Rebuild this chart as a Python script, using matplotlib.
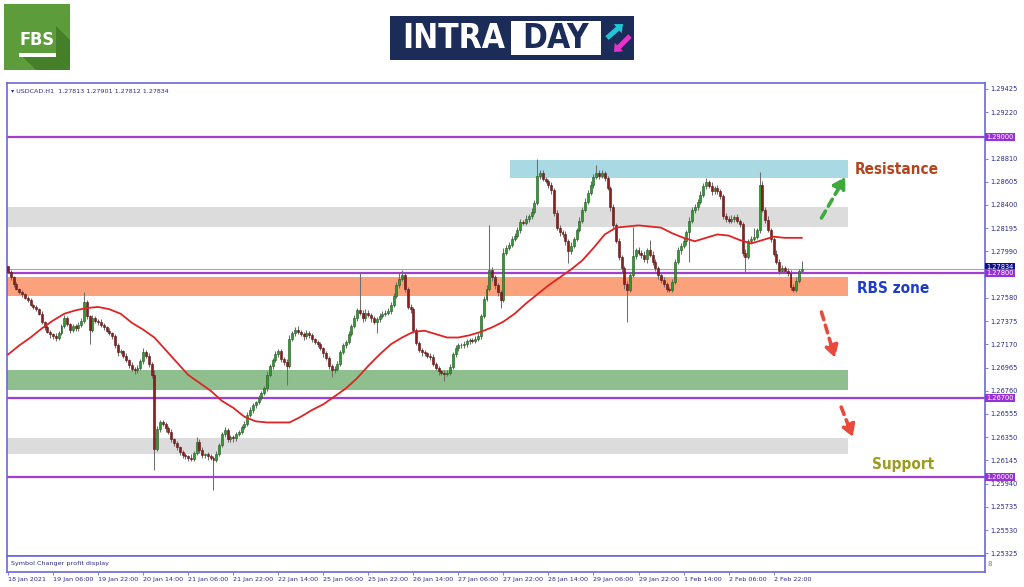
import matplotlib
matplotlib.use("Agg")
import matplotlib.pyplot as plt
from matplotlib import font_manager
from matplotlib.font_manager import FontProperties
from matplotlib.patches import Rectangle, Polygon, FancyArrow
import numpy as np

# USDCAD H1 closes, bar by bar
closes = [
    1.2781, 1.2776, 1.2770, 1.2766, 1.2763, 1.2761, 1.2758, 1.2756, 1.2752, 1.2750,
    1.2748, 1.2744, 1.2737, 1.2732, 1.2728, 1.2726, 1.2724, 1.2723, 1.2727, 1.2733,
    1.2740, 1.2735, 1.2730, 1.2733, 1.2731, 1.2734, 1.2738, 1.2754, 1.2742, 1.2730,
    1.2740, 1.2738, 1.2737, 1.2734, 1.2732, 1.2729, 1.2727, 1.2724, 1.2716, 1.2710,
    1.2711, 1.2707, 1.2703, 1.2699, 1.2695, 1.2694, 1.2696, 1.2702, 1.2710, 1.2707,
    1.2700, 1.2690, 1.2625, 1.2642, 1.2648, 1.2647, 1.2643, 1.2640, 1.2633, 1.2630,
    1.2626, 1.2622, 1.2619, 1.2618, 1.2617, 1.2616, 1.2621, 1.2631, 1.2624, 1.2619,
    1.2620, 1.2618, 1.2617, 1.2615, 1.2620, 1.2628, 1.2638, 1.2641, 1.2633, 1.2635,
    1.2634, 1.2638, 1.2640, 1.2644, 1.2647, 1.2655, 1.2659, 1.2663, 1.2666, 1.2670,
    1.2674, 1.2678, 1.2690, 1.2698, 1.2703, 1.2708, 1.2711, 1.2704, 1.2701, 1.2698,
    1.2722, 1.2727, 1.2730, 1.2728, 1.2726, 1.2724, 1.2727, 1.2725, 1.2722, 1.2719,
    1.2717, 1.2714, 1.2709, 1.2705, 1.2698, 1.2694, 1.2695, 1.2700, 1.2710, 1.2716,
    1.2719, 1.2726, 1.2733, 1.2740, 1.2747, 1.2745, 1.2740, 1.2745, 1.2743, 1.2740,
    1.2737, 1.2739, 1.2742, 1.2744, 1.2745, 1.2746, 1.2752, 1.2760, 1.2769, 1.2775,
    1.2778, 1.2766, 1.2750, 1.2748, 1.2730, 1.2718, 1.2712, 1.2710, 1.2709, 1.2707,
    1.2706, 1.2700, 1.2696, 1.2693, 1.2692, 1.2691, 1.2692, 1.2697, 1.2708, 1.2714,
    1.2716, 1.2716, 1.2717, 1.2720, 1.2721, 1.2720, 1.2722, 1.2724, 1.2742, 1.2757,
    1.2766, 1.2783, 1.2776, 1.2769, 1.2763, 1.2756, 1.2798, 1.2802, 1.2805, 1.2810,
    1.2813, 1.2818, 1.2825, 1.2824, 1.2828, 1.2830, 1.2834, 1.2842, 1.2866, 1.2868,
    1.2863, 1.2861, 1.2858, 1.2853, 1.2833, 1.2820, 1.2816, 1.2814, 1.2808, 1.2799,
    1.2804, 1.2810, 1.2818, 1.2826, 1.2836, 1.2843, 1.2851, 1.2858, 1.2865, 1.2868,
    1.2866, 1.2868, 1.2864, 1.2855, 1.2838, 1.2822, 1.2808, 1.2794, 1.2784, 1.2770,
    1.2765, 1.2778, 1.2795, 1.2800, 1.2798, 1.2796, 1.2792, 1.2800, 1.2796, 1.2790,
    1.2784, 1.2778, 1.2774, 1.2770, 1.2766, 1.2765, 1.2772, 1.2790, 1.2800, 1.2804,
    1.2808, 1.2816, 1.2826, 1.2836, 1.2838, 1.2843, 1.2849, 1.2857, 1.2860, 1.2857,
    1.2852, 1.2855, 1.2852, 1.2848, 1.2830, 1.2828, 1.2826, 1.2828, 1.2829, 1.2826,
    1.2823, 1.2798, 1.2794, 1.2808, 1.2810, 1.2812, 1.2818, 1.2858, 1.2836, 1.2827,
    1.2818, 1.2810, 1.2797, 1.2790, 1.2782, 1.2784, 1.2782, 1.2780, 1.2768, 1.2765,
    1.2773, 1.27813, 1.27834,
]
first_open = 1.2786

# wick lengths beyond the body, in pips
upper_wick = [
    0, 2, 1, 2, 1, 2, 1, 2, 2, 1, 2, 1, 2, 1, 2, 2, 1, 3, 2, 2,
    3, 2, 1, 2, 2, 3, 2, 9, 2, 1, 3, 2, 1, 2, 2, 1, 2, 1, 2, 2,
    2, 1, 2, 1, 2, 2, 3, 2, 4, 2, 2, 1, 4, 3, 2, 2, 1, 2, 2, 1,
    2, 1, 2, 2, 1, 3, 2, 4, 2, 2, 1, 2, 2, 1, 3, 2, 2, 3, 2, 2,
    2, 2, 1, 2, 2, 2, 3, 2, 1, 2, 2, 2, 3, 2, 2, 3, 2, 2, 2, 3,
    3, 2, 2, 3, 2, 2, 3, 2, 2, 1, 2, 2, 1, 2, 2, 2, 3, 2, 2, 2,
    2, 3, 2, 3, 2, 34, 2, 3, 2, 2, 2, 2, 3, 2, 2, 3, 2, 2, 3, 5,
    5, 2, 2, 3, 2, 1, 2, 2, 2, 1, 2, 2, 1, 2, 1, 2, 2, 3, 2, 2,
    2, 2, 3, 2, 2, 2, 2, 3, 2, 3, 3, 39, 2, 2, 2, 2, 4, 3, 2, 3,
    2, 3, 3, 2, 3, 2, 3, 2, 15, 3, 3, 2, 2, 2, 2, 3, 2, 2, 3, 2,
    3, 2, 2, 3, 2, 3, 2, 3, 2, 7, 3, 3, 2, 2, 2, 3, 2, 3, 2, 2,
    3, 3, 26, 2, 3, 2, 3, 2, 9, 3, 2, 2, 3, 2, 2, 2, 3, 2, 3, 2,
    3, 2, 3, 2, 3, 2, 3, 2, 4, 2, 3, 2, 3, 2, 2, 3, 2, 3, 2, 3,
    2, 2, 3, 2, 3, 8, 2, 11, 3, 2, 3, 2, 2, 3, 2, 3, 2, 2, 3, 2,
    3, 2, 7,
]
lower_wick = [
    1, 2, 2, 1, 2, 2, 1, 2, 1, 2, 2, 1, 2, 2, 1, 3, 2, 3, 2, 2,
    2, 2, 3, 2, 2, 2, 2, 2, 3, 13, 2, 2, 3, 2, 2, 1, 2, 2, 2, 3,
    2, 2, 2, 3, 2, 3, 2, 2, 2, 2, 3, 3, 19, 2, 2, 2, 3, 2, 2, 3,
    2, 3, 2, 2, 3, 2, 2, 2, 3, 2, 2, 3, 2, 27, 2, 2, 2, 3, 2, 2,
    3, 2, 2, 2, 2, 2, 2, 3, 2, 2, 2, 2, 2, 2, 3, 2, 2, 3, 2, 17,
    2, 2, 3, 2, 2, 3, 2, 2, 3, 2, 2, 2, 3, 2, 3, 6, 2, 2, 2, 2,
    2, 2, 2, 2, 2, 2, 3, 2, 2, 3, 2, 10, 2, 2, 2, 2, 2, 2, 2, 2,
    2, 3, 2, 3, 3, 2, 2, 3, 2, 2, 3, 2, 2, 3, 2, 6, 2, 2, 2, 2,
    3, 2, 2, 2, 3, 2, 2, 2, 2, 2, 2, 2, 3, 3, 3, 7, 2, 2, 2, 2,
    2, 2, 3, 2, 2, 3, 2, 2, 2, 3, 2, 2, 3, 3, 3, 2, 3, 2, 3, 10,
    2, 2, 2, 2, 2, 2, 2, 2, 3, 2, 3, 2, 3, 2, 3, 3, 2, 3, 3, 4,
    28, 2, 2, 3, 2, 3, 2, 3, 2, 3, 2, 3, 3, 2, 3, 2, 2, 2, 2, 3,
    2, 3, 26, 2, 3, 2, 2, 2, 3, 2, 3, 2, 2, 3, 2, 3, 2, 2, 3, 2,
    2, 3, 13, 2, 2, 2, 2, 3, 2, 3, 2, 3, 2, 2, 3, 2, 2, 3, 3, 2,
    2, 2, 0,
]

# red moving average, sampled every 4 bars
ma_bars = list(range(0, 281, 4)) + [282]
ma_values = [
    1.2708, 1.2716, 1.2723, 1.2731, 1.2738, 1.2744, 1.2747, 1.2749, 1.2750, 1.2748,
    1.2744, 1.2736, 1.2730, 1.2723, 1.2712, 1.2701, 1.2690, 1.2683, 1.2676, 1.2667,
    1.2661, 1.2653, 1.2649, 1.2648, 1.2648, 1.2648, 1.2653, 1.2659, 1.2664, 1.2671,
    1.2678, 1.2687, 1.2698, 1.2708, 1.2717, 1.2723, 1.2728, 1.2729, 1.2726, 1.2723,
    1.2723, 1.2725, 1.2728, 1.2732, 1.2737, 1.2744, 1.2753, 1.2761, 1.2769, 1.2776,
    1.2783, 1.2791, 1.2802, 1.2814, 1.2820, 1.2821, 1.2822, 1.2821, 1.2820, 1.2815,
    1.2811, 1.2808, 1.2811, 1.2814, 1.2813, 1.2809, 1.2806, 1.2809, 1.2812, 1.2811,
    1.2811, 1.2811,
]

time_labels = ["18 Jan 2021", "19 Jan 06:00", "19 Jan 22:00", "20 Jan 14:00",
               "21 Jan 06:00", "21 Jan 22:00", "22 Jan 14:00", "25 Jan 06:00",
               "25 Jan 22:00", "26 Jan 14:00", "27 Jan 06:00", "27 Jan 22:00",
               "28 Jan 14:00", "29 Jan 06:00", "29 Jan 22:00", "1 Feb 14:00",
               "2 Feb 06:00", "2 Feb 22:00"]
label_step = 16

price_ticks = [1.29425, 1.29220, 1.28810, 1.28605, 1.28400, 1.28195, 1.27990,
               1.27580, 1.27375, 1.27170, 1.26965, 1.26760, 1.26555, 1.26350,
               1.26145, 1.25940, 1.25735, 1.25530, 1.25325]
levels = [1.29000, 1.27800, 1.26700, 1.26000]
last_price = 1.27834

zone_low = [1.28638, 1.28206, 1.27596, 1.26766, 1.26201]
zone_high = [1.28797, 1.28382, 1.27764, 1.26943, 1.26342]
zone_start = [178.3, -1, -1, -1, -1]
zone_end = 298.6
zone_colors = ["#A9D9E3", "#DCDCDC", "#FBA17C", "#8FBF8F", "#DCDCDC"]

# narrow bold face for the captions, picked by file if one is installed
files = [f.fname for f in font_manager.fontManager.ttflist]
narrow_file = next((p for p in files if "LiberationSansNarrow-Bold." in p), None) or \
    next((p for p in files if "DejaVuSansCondensed-Bold." in p), None)
if narrow_file:
    cap = dict(fontproperties=FontProperties(fname=narrow_file))
    narrow = "Narrow" in narrow_file
    fs, lfs, ffs = (12.5, 31, 16) if narrow else (11, 24, 13)
else:
    cap = dict(family="DejaVu Sans", fontweight="bold")
    fs, lfs, ffs = 10.5, 22, 12

frame = "#6A6AD8"
label_col = "#2A2A8C"

fig = plt.figure(figsize=(10.24, 5.87), dpi=100)
fig.patch.set_facecolor("white")

ax = fig.add_axes([7 / 1024, 1 - 556 / 587, 978 / 1024, 473 / 587])
sub = fig.add_axes([7 / 1024, 1 - 572 / 587, 978 / 1024, 16 / 587], sharex=ax)

x = np.arange(len(closes))
close = np.array(closes)
open_ = np.concatenate([[first_open], close[:-1]])
pip = 0.0001
high = np.maximum(open_, close) + np.array(upper_wick) * pip
low = np.minimum(open_, close) - np.array(lower_wick) * pip

# zones
for lo, hi, st, c in zip(zone_low, zone_high, zone_start, zone_colors):
    ax.add_patch(Rectangle((st, lo), zone_end - st, hi - lo, color=c, lw=0, zorder=1))

for lv in levels:
    ax.axhline(lv, color="#A23FD0", lw=1.6, zorder=2)
ax.axhline(last_price, color="#A8A8A8", lw=0.8, zorder=2)

# candles
ax.vlines(x, low, high, color="#6E6E6E", lw=0.75, zorder=3)
up = close >= open_
body = np.maximum(np.abs(close - open_), 0.00003)
ax.bar(x[up], body[up], bottom=open_[up], width=0.7, color="#309A30",
       edgecolor="#1D5A1D", lw=0.4, zorder=4)
ax.bar(x[~up], body[~up], bottom=close[~up], width=0.7, color="#8B1E1E",
       edgecolor="#5A1010", lw=0.4, zorder=4)

ax.plot(ma_bars, ma_values, color="#E02424", lw=1.3, zorder=5)

# arrows
def dashed_arrow(x0, y0, x1, y1, color):
    ax.annotate("", xy=(x1, y1), xytext=(x0, y0), zorder=6,
                arrowprops=dict(arrowstyle="-|>,head_length=0.7,head_width=0.4",
                                linestyle=(0, (2.2, 1.6)), lw=2.6, color=color,
                                shrinkA=0, shrinkB=0))

dashed_arrow(289, 1.28285, 297.5, 1.28650, "#3DAA3D")
dashed_arrow(289, 1.27455, 293.8, 1.27050, "#E84A3C")
dashed_arrow(296, 1.26616, 300.2, 1.26350, "#E84A3C")

ax.text(300.7, 1.28709, "Resistance", color="#B4441E", fontsize=fs,
        va="center", ha="left", zorder=7, **cap)
ax.text(301.8, 1.27667, "RBS zone", color="#1E3CC8", fontsize=fs,
        va="center", ha="left", zorder=7, **cap)
ax.text(307.0, 1.26113, "Support", color="#9B9B1E", fontsize=fs,
        va="center", ha="left", zorder=7, **cap)

ax.text(0.004, 0.988, "\u25be USDCAD.H1  1.27813 1.27901 1.27812 1.27834",
        transform=ax.transAxes, fontsize=4.6, color=label_col, va="top", ha="left")

ax.set_xlim(-0.36, 347.1)
ax.set_ylim(1.25301, 1.29477)

ax.yaxis.tick_right()
ax.set_yticks(price_ticks)
ax.set_yticklabels([f"{p:.5f}" for p in price_ticks])
ax.tick_params(axis="y", direction="out", length=2.5, width=0.6, colors=frame,
               labelcolor=label_col, labelsize=4.8, pad=1.5)
ax.tick_params(axis="x", bottom=False, labelbottom=False)
for s in ax.spines.values():
    s.set_color(frame)
    s.set_linewidth(1.2)

# level boxes on the price scale
ytr = ax.get_yaxis_transform()
ax.text(1.0015, last_price + 0.00022, f"{last_price:.5f}", transform=ytr, fontsize=4.8,
        color="white", va="center", ha="left", clip_on=False, zorder=8,
        bbox=dict(boxstyle="square,pad=0.15", fc="#10108A", ec="none"))
for lv in levels:
    ax.text(1.0015, lv, f"{lv:.5f}", transform=ytr, fontsize=4.8, color="white",
            va="center", ha="left", clip_on=False, zorder=9,
            bbox=dict(boxstyle="square,pad=0.15", fc="#9B2FD6", ec="none"))

# sub window with time scale
sub.set_yticks([])
sub.set_xticks(np.arange(len(time_labels)) * label_step)
sub.set_xticklabels(time_labels)
for t in sub.get_xticklabels():
    t.set_horizontalalignment("left")
sub.tick_params(axis="x", direction="out", length=2.5, width=0.6, colors=frame,
                labelcolor=label_col, labelsize=4.6, pad=1)
for s in sub.spines.values():
    s.set_color(frame)
    s.set_linewidth(1.2)
sub.text(0.004, 0.5, "Symbol Changer profit display", transform=sub.transAxes,
         fontsize=4.6, color=label_col, va="center", ha="left")
sub.text(1.003, 0.5, "8", transform=sub.transAxes, fontsize=5, color=frame,
         va="center", ha="left", clip_on=False)

# header logos
deco = fig.add_axes([0, 0, 1, 1], zorder=-1)
deco.set_xlim(0, 1024)
deco.set_ylim(587, 0)
deco.axis("off")

deco.add_patch(Rectangle((4, 4), 66, 66, color="#5C9C3A", lw=0))
deco.add_patch(Polygon([[22, 56], [56, 56], [70, 70], [36, 70]], closed=True,
                       color="#457F2A", lw=0))
deco.add_patch(Polygon([[56, 26], [70, 40], [70, 70], [56, 56]], closed=True,
                       color="#457F2A", lw=0))
deco.text(37, 40, "FBS", color="white", fontsize=ffs, ha="center", va="center", **cap)
deco.add_patch(Rectangle((19, 53), 37, 3.5, color="white", lw=0))

deco.add_patch(Rectangle((390, 16), 244, 44, color="#1B2C58", lw=0))
deco.add_patch(Rectangle((511, 21), 90, 34, color="white", lw=0))
deco.text(454, 38.5, "INTRA", color="white", fontsize=lfs, ha="center", va="center", **cap)
deco.text(556, 38.5, "DAY", color="#1B2C58", fontsize=lfs, ha="center", va="center", **cap)
deco.add_patch(FancyArrow(607, 38, 16, -14, width=5, head_width=12, head_length=7,
                          color="#22C4D8", lw=0, length_includes_head=True))
deco.add_patch(FancyArrow(630, 36, -16, 16, width=5, head_width=12, head_length=7,
                          color="#E532C8", lw=0, length_includes_head=True))

fig.savefig("out.png", dpi=100, facecolor="white")
